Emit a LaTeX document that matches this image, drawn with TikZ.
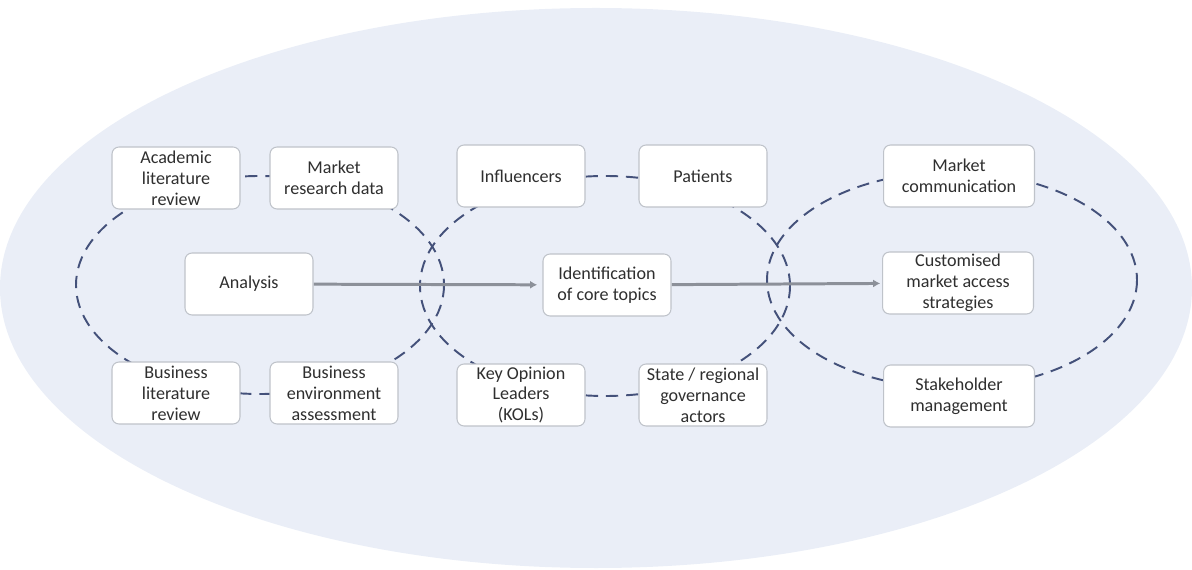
\documentclass[tikz,border=0pt]{standalone}
\usepackage{fontspec}
\setmainfont{Carlito}
\usetikzlibrary{arrows.meta}

\definecolor{bgblue}{HTML}{EAEEF7}
\definecolor{dashblue}{HTML}{44517A}
\definecolor{arrowgray}{HTML}{8C9099}
\definecolor{boxline}{HTML}{BFC3CA}
\definecolor{txtgray}{HTML}{2F2F2F}

\pgfdeclarelayer{back}
\pgfsetlayers{back,main}

\begin{document}
\begin{tikzpicture}[x=0.02cm, y=-0.02cm,
    box/.style={draw=boxline, line width=0.6pt, fill=white, rounded corners=4pt,
        minimum width=2.56cm, minimum height=1.24cm, inner sep=1pt, align=center,
        text=txtgray, font=\fontsize{10.3}{11.9}\selectfont},
    widebox/.style={box, minimum width=3.02cm},
    ring/.style={draw=dashblue, line width=1.1pt, dash pattern=on 7pt off 4.5pt},
    flow/.style={draw=arrowgray, line width=1.7pt, -{Latex[length=4pt,width=4.5pt]}}]
    \useasboundingbox (0,0) rectangle (1192,570);

    % analysis group
    \node[box] (alr) at (176,178) {Academic\\literature\\review};
    \node[box] (mrd) at (334,178) {Market\\research data};
    \node[box] (ana) at (249,284) {Analysis};
    \node[box] (blr) at (176,393) {Business\\literature\\review};
    \node[box] (bea) at (334,393) {Business\\environment\\assessment};

    % core topics group
    \node[box] (inf) at (521,176) {Influencers};
    \node[box] (pat) at (703,176) {Patients};
    \node[box] (ict) at (607,285) {Identification\\of core topics};
    \node[box] (kol) at (521,395) {Key Opinion\\Leaders\\(KOLs)};
    \node[box] (sra) at (703,395) {State / regional\\governance\\actors};

    % strategy group
    \node[widebox] (mc) at (959,176) {Market\\communication};
    \node[widebox] (cma) at (958,283) {Customised\\market access\\strategies};
    \node[widebox] (sm) at (959,396) {Stakeholder\\management};

    \begin{pgfonlayer}{back}
        \fill[bgblue] (596,288) ellipse [x radius=596, y radius=280];
        \draw[ring] (260,285) ellipse [x radius=184, y radius=109];
        \draw[ring] (605,286) ellipse [x radius=185, y radius=110];
        \draw[ring] (952,280) ellipse [x radius=185, y radius=108];
        \draw[flow, shorten >=3pt] (ana) -- (ict);
        \draw[flow, shorten >=1pt] (ict) -- (cma);
    \end{pgfonlayer}
\end{tikzpicture}
\end{document}
